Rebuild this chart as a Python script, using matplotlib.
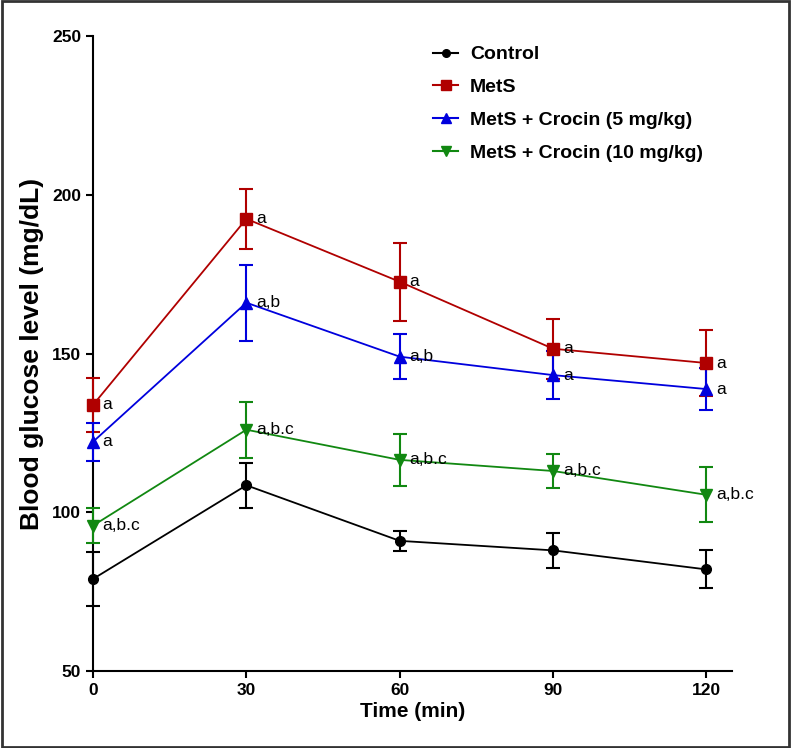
import numpy as np
import matplotlib
matplotlib.use("Agg")
import matplotlib.pyplot as plt
from matplotlib.patches import Rectangle
from matplotlib.lines import Line2D

plt.rcParams['font.family'] = ['Liberation Sans', 'DejaVu Sans']

# time points (min)
time = [0, 30, 60, 90, 120]

# mean blood glucose (mg/dL) and SEM per group
control = [79, 108.5, 91, 88, 82]
control_err = [8.5, 7, 3.2, 5.5, 6]
mets = [133.8, 192.4, 172.6, 151.5, 147]
mets_err = [8.5, 9.5, 12.3, 9.5, 10.5]
crocin5 = [122.2, 166, 149, 143.2, 138.8]
crocin5_err = [6, 12, 7, 7.5, 6.5]
crocin10 = [95.8, 126, 116.5, 113, 105.5]
crocin10_err = [5.5, 8.8, 8.2, 5.3, 8.7]

# significance letters
mets_sig = ['a', 'a', 'a', 'a', 'a']
crocin5_sig = ['a', 'a,b', 'a,b', 'a', 'a']
crocin10_sig = ['a,b.c', 'a,b.c', 'a,b.c', 'a,b.c', 'a,b.c']

fig = plt.figure(figsize=(7.91, 7.48), dpi=100)
ax = fig.add_axes([0.1176, 0.1029, 0.8078, 0.849])

series = [
    ('Control', control, control_err, 'black', 'o', 7, None),
    ('MetS', mets, mets_err, '#b00000', 's', 8, mets_sig),
    ('MetS + Crocin (5 mg/kg)', crocin5, crocin5_err, '#0000dd', '^', 8, crocin5_sig),
    ('MetS + Crocin (10 mg/kg)', crocin10, crocin10_err, '#118811', 'v', 8, crocin10_sig),
]

handles = []
for name, y, err, col, mk, ms, sig in series:
    eb = ax.errorbar(time, y, yerr=err, color=col, marker=mk, markersize=ms,
                     linewidth=1.3, elinewidth=1.5, capsize=5, capthick=1.5,
                     clip_on=False, zorder=3)
    for art in eb.get_children():
        art.set_clip_on(False)
    handles.append(Line2D([], [], color=col, marker=mk, markersize=ms - 1.5,
                          linewidth=1.5, label=name))
    if sig:
        for t, v, s in zip(time, y, sig):
            ax.annotate(s, (t, v), xytext=(7, 0), textcoords='offset points',
                        ha='left', va='center', fontsize=12.5, zorder=4)

ax.set_xlim(0, 125)
ax.set_ylim(50, 250)
ax.set_xticks(time)
ax.set_yticks([50, 100, 150, 200, 250])
ax.spines['top'].set_visible(False)
ax.spines['right'].set_visible(False)
ax.spines['left'].set_linewidth(1.5)
ax.spines['bottom'].set_linewidth(1.5)
ax.tick_params(direction='out', length=5, width=1.5, labelsize=12.5)
for lab in ax.get_xticklabels() + ax.get_yticklabels():
    lab.set_fontweight('bold')

ax.set_xlabel('Time (min)', fontsize=15, fontweight='bold', labelpad=3)
ax.set_ylabel('Blood glucose level (mg/dL)', fontsize=19, fontweight='bold', labelpad=6)

leg = ax.legend(handles=handles, loc='upper left', bbox_to_anchor=(0.505, 1.012),
                frameon=False, prop={'weight': 'bold', 'size': 14},
                handlelength=1.3, handletextpad=0.6, labelspacing=0.78)

fig.add_artist(Rectangle((0.002, 0.002), 0.996, 0.996, transform=fig.transFigure,
                         fill=False, edgecolor='#333333', linewidth=2))

fig.savefig('out.png', dpi=100)
